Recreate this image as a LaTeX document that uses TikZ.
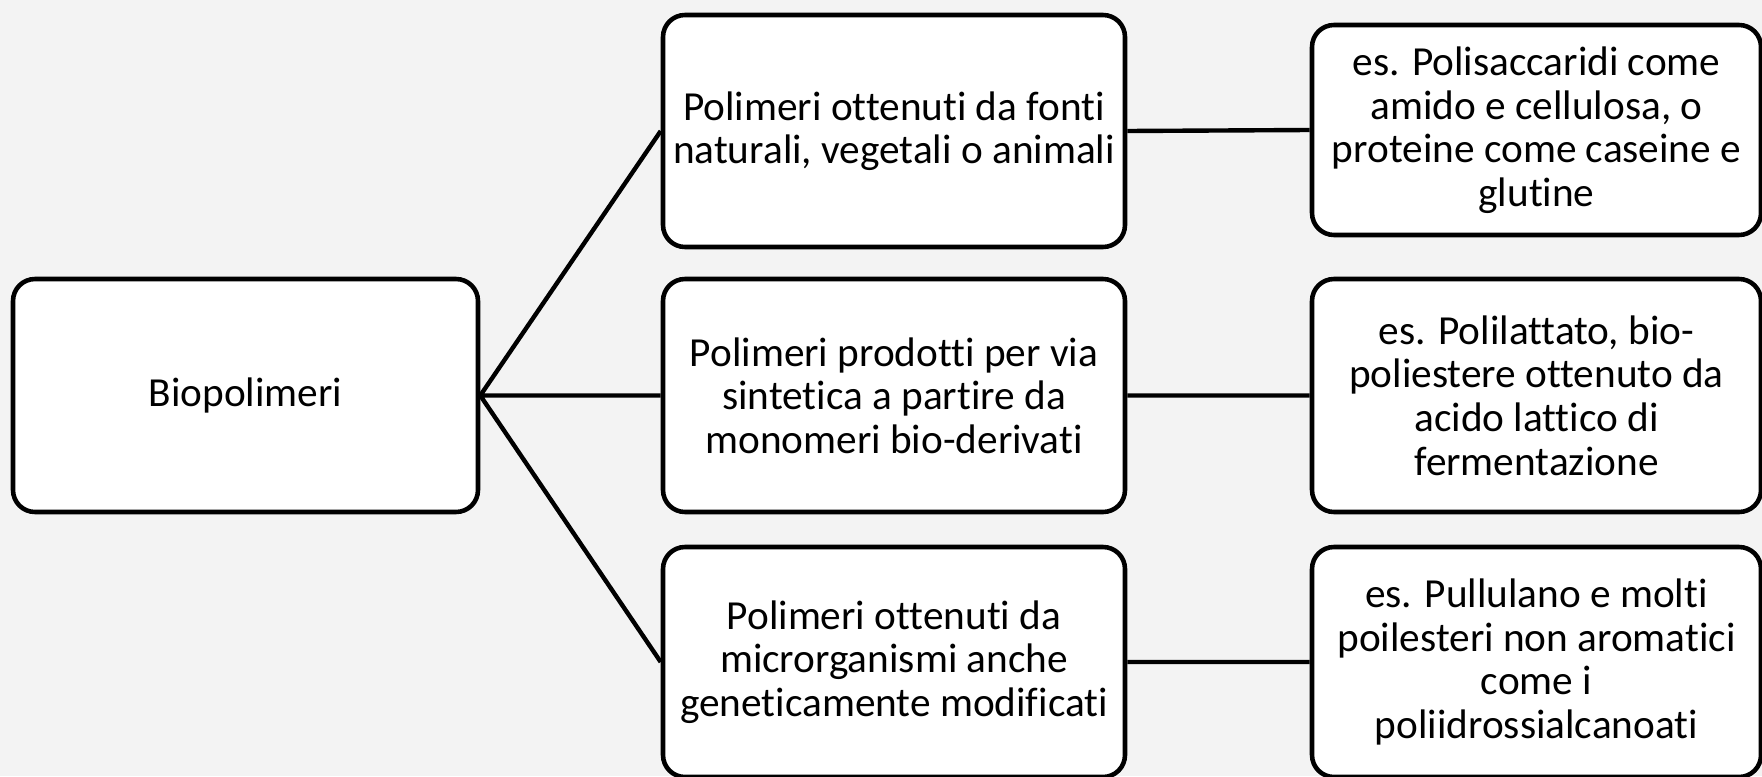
\documentclass[tikz,border=0pt]{standalone}
\usepackage{fontspec}
\setmainfont{Carlito}[Ligatures={NoCommon}]
\definecolor{bgpaper}{HTML}{F3F3F3}
\newcommand{\pxscl}{0.02}
\newcommand{\px}[1]{#1*\pxscl}
\tikzset{
  blk/.style={draw, line width=2.6pt, rounded corners=0.44cm, fill=white,
    align=center, inner sep=1pt, font=\fontsize{23.5}{24.8}\selectfont},
  lnk/.style={line width=2.5pt}
}
\newcommand{\bx}{\node[blk]}

\begin{document}
\begin{tikzpicture}
  \fill[bgpaper] (0,0) rectangle (\px{1762}, -\px{776});
  \useasboundingbox (0,0) rectangle (\px{1762}, -\px{776});

  \bx[minimum width=\px{465}cm, minimum height=\px{233}cm] (bio) at (\px{245.5}, -\px{395.5}) {Biopolimeri};

  \bx[minimum width=\px{462}cm, minimum height=\px{232}cm] (nat) at (\px{894}, -\px{131}) {Polimeri ottenuti da fonti\\naturali, vegetali o animali};
  \bx[minimum width=\px{462}cm, minimum height=\px{233}cm] (sin) at (\px{894}, -\px{395.5}) {Polimeri prodotti per via\\sintetica a partire da\\monomeri bio-derivati};
  \bx[minimum width=\px{462}cm, minimum height=\px{230}cm] (mic) at (\px{894}, -\px{662}) {Polimeri ottenuti da\\microrganismi anche\\geneticamente modificati};

  \bx[minimum width=\px{449}cm, minimum height=\px{210}cm] (esnat) at (\px{1536.5}, -\px{130}) {es. Polisaccaridi come\\amido e cellulosa, o\\proteine come caseine e\\glutine};
  \bx[minimum width=\px{449}cm, minimum height=\px{233}cm] (essin) at (\px{1536.5}, -\px{395.5}) {es. Polilattato, bio-\\poliestere ottenuto da\\acido lattico di\\fermentazione};
  \bx[minimum width=\px{449}cm, minimum height=\px{230}cm] (esmic) at (\px{1536.5}, -\px{662}) {es. Pullulano e molti\\poilesteri non aromatici\\come i\\poliidrossialcanoati};

  \draw[lnk]
    (bio.east) -- (nat.west)
    (bio.east) -- (sin.west)
    (bio.east) -- (mic.west)
    ;

  \draw[lnk]
    (nat.east) -- (esnat.west)
    (sin.east) -- (essin.west)
    (mic.east) -- (esmic.west)
    ;

\end{tikzpicture}
\end{document}
